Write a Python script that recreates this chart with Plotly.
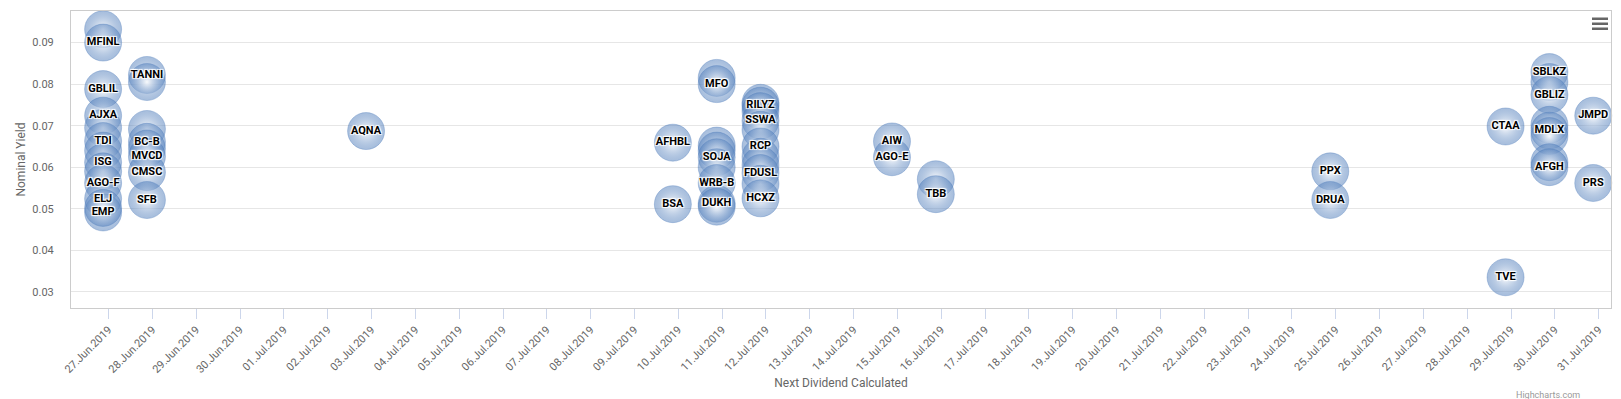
import pandas as pd
import plotly.graph_objects as go

# ---- data ----
tickers = [
    # 27 Jun 2019
    "", "MFINL", "GBLIL", "AJXA", "", "TDI", "", "ISG", "", "AGO-F", "ELJ", "EMP", "",
    # 28 Jun 2019
    "TANNI", "", "", "BC-B", "", "MVCD", "CMSC", "SFB",
    # 03 Jul 2019
    "AQNA",
    # 10 Jul 2019
    "AFHBL", "BSA",
    # 11 Jul 2019
    "", "MFO", "", "", "SOJA", "", "WRB-B", "DUKH", "",
    # 12 Jul 2019
    "", "RILYZ", "", "SSWA", "", "RCP", "", "", "FDUSL", "", "HCXZ",
    # 15 Jul 2019
    "AIW", "AGO-E",
    # 16 Jul 2019
    "", "TBB",
    # 25 Jul 2019
    "PPX", "DRUA",
    # 29 Jul 2019
    "CTAA", "TVE",
    # 30 Jul 2019
    "SBLKZ", "", "GBLIZ", "", "MDLX", "", "", "AFGH",
    # 31 Jul 2019
    "JMPD", "PRS",
]
dividend_dates = (
    ["2019-06-27"] * 13 + ["2019-06-28"] * 8 + ["2019-07-03"] + ["2019-07-10"] * 2
    + ["2019-07-11"] * 9 + ["2019-07-12"] * 11 + ["2019-07-15"] * 2 + ["2019-07-16"] * 2
    + ["2019-07-25"] * 2 + ["2019-07-29"] * 2 + ["2019-07-30"] * 8 + ["2019-07-31"] * 2
)
nominal_yield = [
    0.0932, 0.0900, 0.0788, 0.0724, 0.0695, 0.0663, 0.0640, 0.0612, 0.0590, 0.0562, 0.0524, 0.0491, 0.0502,
    0.0822, 0.0805, 0.0692, 0.0661, 0.0645, 0.0626, 0.0588, 0.0521,
    0.0687,
    0.0659, 0.0511,
    0.0815, 0.0800, 0.0652, 0.0640, 0.0624, 0.0600, 0.0562, 0.0512, 0.0505,
    0.0755, 0.0748, 0.0735, 0.0712, 0.0690, 0.0650, 0.0625, 0.0605, 0.0586, 0.0560, 0.0525,
    0.0662, 0.0624,
    0.0571, 0.0535,
    0.0590, 0.0521,
    0.0698, 0.0335,
    0.0829, 0.0805, 0.0774, 0.0702, 0.0688, 0.0675, 0.0612, 0.0600,
    0.0724, 0.0562,
]
tick_days = pd.date_range("2019-06-27", "2019-07-31", freq="D")
tick_labels = [d.strftime("%d.%b.%Y") for d in tick_days]
y_ticks = [0.03, 0.04, 0.05, 0.06, 0.07, 0.08, 0.09]

# ---- figure ----
# the page body has an 8px default margin, so the figure is 8px smaller
OFF = 8
W, H = 1621 - OFF, 399 - OFF
L, R, T, B = 71 - OFF, 10, 11 - OFF, 91
pw, ph = W - L - R, H - T - B

def px_x(p):  # page pixel -> paper
    return (p - OFF - L) / pw

def px_y(p):
    return (H - B - (p - OFF)) / ph

shadow = "1px 1px 1px #fff, -1px -1px 1px #fff, 1px -1px 1px #fff, -1px 1px 1px #fff"

fig = go.Figure()
fig.add_trace(go.Scatter(
    x=pd.to_datetime(dividend_dates), y=nominal_yield, text=tickers,
    mode="markers+text", textposition="middle center",
    textfont=dict(family="Roboto", size=11, color="#000", weight="bold", shadow=shadow),
    marker=dict(size=37, color="rgba(78,124,186,0.5)",
                gradient=dict(type="radial", color="rgba(255,255,255,0.85)"),
                line=dict(width=1, color="rgba(78,124,186,0.35)")),
    cliponaxis=False, hoverinfo="skip", showlegend=False,
))

tick_vals = tick_days + pd.Timedelta(hours=3)
fig.update_xaxes(
    range=["2019-06-26 06:25", "2019-07-31 09:44"],
    tickmode="array", tickvals=tick_vals, ticktext=tick_labels, tickangle=-45,
    ticks="outside", ticklen=10, tickcolor="#ccd6eb", tickwidth=1,
    showgrid=False, zeroline=False, automargin=False,
    showline=True, linecolor="#cccccc", linewidth=1, mirror=True,
    tickfont=dict(family="Roboto", size=11, color="#666666"),
    title=dict(text="Next Dividend Calculated", font=dict(family="Roboto", size=12, color="#666666"), standoff=3),
)
fig.update_yaxes(
    range=[0.0261, 0.0976],
    tickmode="array", tickvals=y_ticks, ticktext=[f"{v:.2f}" for v in y_ticks],
    showgrid=True, gridcolor="#e6e6e6", gridwidth=1, zeroline=False, automargin=False,
    showline=True, linecolor="#cccccc", linewidth=1, mirror=True,
    ticklabelstandoff=14,
    tickfont=dict(family="Roboto", size=11, color="#666666"),
    title=dict(text="Nominal Yield", font=dict(family="Roboto", size=12, color="#666666"), standoff=4),
)

# hamburger menu icon
for y0 in (17.5, 22.5, 27.5):
    fig.add_shape(type="rect", xref="paper", yref="paper",
                  x0=px_x(1592), x1=px_x(1608), y0=px_y(y0 + 2.5), y1=px_y(y0),
                  fillcolor="#666666", line=dict(width=0), layer="above")

fig.add_annotation(text="Highcharts.com", xref="paper", yref="paper",
                   x=px_x(1582), y=px_y(388), xanchor="right", yanchor="top",
                   showarrow=False, font=dict(family="Roboto", size=9, color="#999999"))

fig.update_layout(
    width=W, height=H, margin=dict(l=L, r=R, t=T, b=B),
    paper_bgcolor="#ffffff", plot_bgcolor="#ffffff",
)
fig.write_html("out.html")
